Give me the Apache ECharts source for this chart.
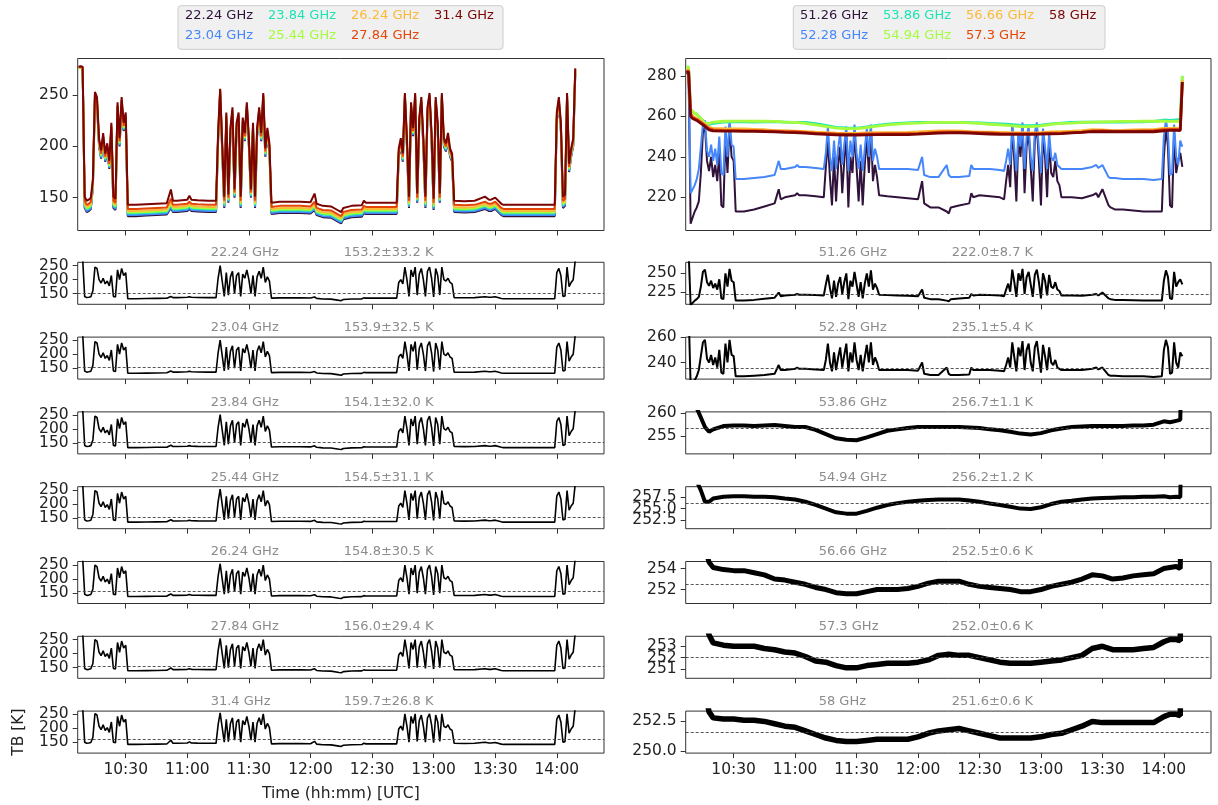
<!DOCTYPE html>
<html>
<head>
<meta charset="utf-8">
<script src="https://cdn.jsdelivr.net/npm/echarts@6/dist/echarts.min.js"></script>
<style>
html, body { margin: 0; padding: 0; background: #fff; }
#chart { width: 1218px; height: 805px; }
</style>
</head>
<body>
<div id="chart"></div>
<script>
// time in minutes after 00:00 UTC
var minutes = [
  607, 608, 609, 610, 611, 612, 613,
  614, 615, 616, 617, 618, 619, 620, 621, 622, 623, 624, 625, 626, 627, 628, 629, 630,
  631, 635, 640, 645, 650, 652, 653, 655, 660, 661, 662, 665, 670, 674,
  675, 676, 677, 678, 679, 680, 681, 682, 683, 684, 685, 686, 687, 688, 689, 690, 691, 692, 693, 694, 695, 696, 697, 698, 699, 700,
  701, 705, 710, 715, 720, 722, 723, 726, 730, 734, 735, 736, 740, 745, 746, 747, 750, 755, 760, 762,
  763, 764, 765, 766, 767, 768, 769, 770, 771, 772, 773, 774, 775, 776, 777, 778, 779, 780, 781, 782, 783, 784, 785, 786, 787, 788, 789,
  790, 795, 800, 805, 807, 808, 810, 813, 814, 816, 820, 825, 830, 835, 839,
  840, 841, 842, 843, 844, 845, 846, 847, 848, 849
];
var minutesSmooth = [
  607, 608, 609, 610, 612, 614, 616, 618, 620,
  625, 630, 635, 640, 645, 650, 655, 660, 665, 670, 675, 680, 685, 690, 695, 700, 705, 710, 715, 720, 725, 730,
  735, 740, 745, 750, 755, 760, 765, 770, 775, 780, 785, 790, 795, 800, 805, 810, 815, 820, 825, 830, 835, 840,
  843, 846, 848, 849
];

var tb22_24 = [
  276, 277, 276, 140, 136, 137, 139,
  160, 245, 240, 200, 188, 205, 185, 195, 178, 215, 140, 138, 235, 200, 240, 215, 225,
  132, 132, 132.5, 133, 133.5, 140, 136, 136, 137, 139, 137, 136.5, 136, 136,
  205, 250, 195, 140, 225, 145, 210, 230, 150, 215, 225, 140, 220, 205, 235, 200, 150, 215, 140, 210, 230, 205, 245, 190, 210, 195,
  134, 135, 135, 135, 134.5, 138, 133, 131, 130.5, 126, 125, 129, 131, 131.5, 135, 134, 134, 134, 134, 134,
  190, 200, 185, 245, 200, 140, 235, 210, 245, 145, 220, 240, 200, 140, 230, 245, 205, 138, 240, 215, 145, 245, 200, 195, 205, 190, 185,
  136, 135.5, 136, 139, 137, 137, 139, 133, 132, 132, 132, 132, 132, 132, 132,
  225, 240, 215, 140, 142, 245, 175, 190, 200, 270
];
var tb23_04 = [
  276, 277, 276, 141, 137, 138, 140,
  161, 246, 241, 201, 189, 206, 186, 196, 179, 216, 141, 139, 236, 201, 241, 216, 226,
  133, 133, 133.5, 134, 134.5, 141, 137, 137, 138, 140, 138, 137.5, 137, 137,
  206, 251, 196, 141, 226, 146, 211, 231, 151, 216, 226, 141, 221, 206, 236, 201, 151, 216, 141, 211, 231, 206, 246, 191, 211, 196,
  135, 136, 136, 136, 135.5, 139, 134, 132, 131.5, 127, 126, 130, 132, 132.5, 136, 135, 135, 135, 135, 135,
  191, 201, 186, 246, 201, 141, 236, 211, 246, 146, 221, 241, 201, 141, 231, 246, 206, 139, 241, 216, 146, 246, 201, 196, 206, 191, 186,
  137, 136.5, 137, 140, 138, 138, 140, 134, 133, 133, 133, 133, 133, 133, 133,
  226, 241, 216, 141, 143, 246, 176, 191, 201, 271
];
var tb23_84 = [
  276, 277, 276, 142, 138.5, 139.5, 141.5,
  162, 247, 242, 202, 190, 207, 187, 197, 180, 217, 142.5, 140.5, 237, 202, 242, 217, 227,
  134.5, 134.5, 135, 135.5, 136, 143, 138.5, 138.5, 139.5, 141.5, 139.5, 139, 138.5, 138.5,
  207, 252, 197, 142.5, 227, 147, 212, 232, 152, 217, 227, 142.5, 222, 207, 237, 202, 152, 217, 142.5, 212, 232, 207, 247, 192, 212, 197,
  136.5, 137.5, 137.5, 137.5, 137, 141, 135.5, 133.5, 133, 128.5, 127.5, 131.5, 133.5, 134, 137.5, 136.5, 136.5, 136.5, 136.5, 136.5,
  192, 202, 187, 247, 202, 142.5, 237, 212, 247, 147, 222, 242, 202, 142.5, 232, 247, 207, 140.5, 242, 217, 147, 247, 202, 197, 207, 192, 187,
  138.5, 138, 138.5, 141.5, 139.5, 139.5, 141.5, 135.5, 134.5, 134.5, 134.5, 134.5, 134.5, 134.5, 134.5,
  227, 242, 217, 142.5, 144.5, 247, 177, 192, 202, 272
];
var tb25_44 = [
  276, 277, 276, 143.5, 139.5, 140.5, 142.5,
  163, 248, 243, 203, 191, 208, 188, 198, 181, 218, 143.5, 141.5, 238, 203, 243, 218, 228,
  135.5, 135.5, 136, 136.5, 137, 144, 139.5, 139.5, 140.5, 142.5, 140.5, 140, 139.5, 139.5,
  208, 253, 198, 143.5, 228, 148, 213, 233, 153, 218, 228, 143.5, 223, 208, 238, 203, 153, 218, 143.5, 213, 233, 208, 248, 193, 213, 198,
  137.5, 138.5, 138.5, 138.5, 138, 142, 136.5, 134.5, 134, 129.5, 128.5, 132.5, 134.5, 135, 138.5, 137.5, 137.5, 137.5, 137.5, 137.5,
  193, 203, 188, 248, 203, 143.5, 238, 213, 248, 148, 223, 243, 203, 143.5, 233, 248, 208, 141.5, 243, 218, 148, 248, 203, 198, 208, 193, 188,
  139.5, 139, 139.5, 142.5, 140.5, 140.5, 142.5, 136.5, 135.5, 135.5, 135.5, 135.5, 135.5, 135.5, 135.5,
  228, 243, 218, 143.5, 145.5, 248, 178, 193, 203, 273
];
var tb26_24 = [
  276.5, 277, 276.5, 145, 141, 142, 144,
  164, 249, 244, 204, 192, 209, 189, 199, 182, 219, 145, 143, 239, 204, 244, 219, 229,
  137, 137, 137.5, 138, 138.5, 146, 141, 141, 142, 144, 142, 141.5, 141, 141,
  209, 254, 199, 145, 229, 149, 214, 234, 154, 219, 229, 145, 224, 209, 239, 204, 154, 219, 145, 214, 234, 209, 249, 194, 214, 199,
  139, 140, 140, 140, 139.5, 143.5, 138, 136, 135.5, 131, 130, 134, 136, 136.5, 140, 139, 139, 139, 139, 139,
  194, 204, 189, 249, 204, 145, 239, 214, 249, 149, 224, 244, 204, 145, 234, 249, 209, 143, 244, 219, 149, 249, 204, 199, 209, 194, 189,
  141, 140.5, 141, 144, 142, 142, 144, 138, 137, 137, 137, 137, 137, 137, 137,
  229, 244, 219, 145, 147, 249, 179, 194, 204, 274
];
var tb27_84 = [
  277, 277.5, 277, 147, 143, 144, 146,
  165, 250, 245, 205, 193, 210, 190, 200, 183, 220, 147, 145, 240, 205, 245, 220, 230,
  139, 139, 139.5, 140, 140.5, 149, 143, 143, 144, 146, 144, 143.5, 143, 143,
  210, 255, 200, 147, 230, 150, 215, 235, 155, 220, 230, 147, 225, 210, 240, 205, 155, 220, 147, 215, 235, 210, 250, 195, 215, 200,
  141, 142, 142, 142, 141.5, 146, 140, 138, 137.5, 133, 132, 136, 138, 138.5, 142, 141, 141, 141, 141, 141,
  195, 205, 190, 250, 205, 147, 240, 215, 250, 150, 225, 245, 205, 147, 235, 250, 210, 145, 245, 220, 150, 250, 205, 200, 210, 195, 190,
  143, 142.5, 143, 146, 144, 144, 146, 140, 139, 139, 139, 139, 139, 139, 139,
  230, 245, 220, 147, 149, 250, 180, 195, 205, 275
];
var tb31_4 = [
  277.5, 278, 277.5, 151, 147, 148, 150,
  168, 253, 248, 208, 196, 213, 193, 203, 186, 223, 151, 149, 243, 208, 248, 223, 233,
  143, 143, 143.5, 144, 144.5, 158, 147, 147, 148, 152, 148, 147.5, 147, 147,
  213, 256, 203, 151, 233, 153, 218, 238, 158, 223, 233, 151, 228, 213, 243, 208, 158, 223, 151, 218, 238, 213, 252, 198, 218, 203,
  145, 146, 146, 146, 145.5, 154, 144, 142, 141.5, 137, 136, 140, 142, 142.5, 147, 145, 145, 145, 145, 145,
  198, 208, 193, 252, 208, 151, 243, 218, 252, 154, 228, 248, 208, 151, 238, 252, 213, 149, 248, 223, 154, 252, 208, 203, 213, 198, 193,
  147, 146.5, 147, 151, 148, 148, 150, 144, 143, 143, 143, 143, 143, 143, 143,
  233, 248, 223, 151, 153, 252, 183, 198, 208, 276
];

var tb51_26 = [
  281, 281.5, 207, 210, 213, 215, 218,
  232, 252, 255, 238, 233, 240, 230, 236, 228, 242, 216, 215, 250, 232, 256, 240, 238,
  213, 213, 214, 215.5, 217, 224, 219, 220, 221, 222, 221, 221, 220.5, 220,
  235, 248, 230, 216, 240, 218, 236, 245, 222, 238, 250, 215, 240, 232, 252, 235, 218, 238, 216, 236, 250, 232, 254, 228, 236, 230,
  221, 220.5, 220, 219.5, 219, 228, 217, 215, 215, 213, 212, 215, 216, 217, 222, 220, 221, 220.5, 220, 219,
  228, 236, 225, 255, 238, 218, 250, 240, 256, 222, 245, 252, 235, 218, 248, 255, 238, 216, 250, 240, 220, 248, 232, 230, 238, 228, 226,
  220, 220, 219.5, 221, 222, 220, 224, 216, 215, 214, 214, 213.5, 213, 213, 213,
  240, 254, 245, 216, 215, 252, 232, 238, 242, 235
];
var tb52_28 = [
  281.5, 282, 222, 224, 226, 229, 234,
  245, 256, 258, 243, 240, 246, 238, 244, 236, 250, 232, 231, 255, 240, 258, 246, 245,
  229, 229, 229.5, 230, 231, 238, 234, 234, 235, 236, 235, 235, 234.5, 234,
  242, 255, 240, 233, 248, 234, 244, 252, 236, 246, 255, 233, 248, 240, 256, 242, 234, 246, 233, 244, 254, 240, 256, 238, 244, 240,
  234, 234, 234, 234, 233.5, 240, 231, 230, 230, 236, 231, 230, 230, 230.5, 236, 234, 234, 234, 233.5, 233,
  238, 244, 236, 256, 244, 233, 252, 245, 257, 234, 250, 255, 240, 233, 252, 257, 244, 232, 254, 245, 234, 252, 240, 238, 242, 236, 235,
  234, 234, 234, 235, 236, 234.5, 236, 230, 229.5, 229.5, 229, 229, 229, 228.5, 229,
  250, 258, 252, 231, 232, 256, 240, 236, 248, 245
];
var tb53_86 = [
  284, 284.5, 263, 262, 261, 259, 257, 256, 256.5,
  257.2, 257.3, 257.3, 257.2, 257.3, 257.4, 257.2, 257.0, 257.0, 256.4, 255.5, 254.6, 254.3, 254.2, 254.8, 255.5, 256.2, 256.5, 256.8, 257.0, 257.0, 257.0,
  257.0, 257.0, 256.9, 256.8, 256.5, 256.3, 256.0, 255.6, 255.4, 255.7, 256.3, 256.7, 257.0, 257.1, 257.2, 257.2, 257.2, 257.2, 257.3, 257.3, 257.5, 258.2,
  258.0, 258.3, 258.5, 280
];
var tb54_94 = [
  284, 284.5, 263.5, 262.5, 261, 259, 256.5, 256.5, 257.2,
  257.6, 257.7, 257.7, 257.6, 257.6, 257.5, 257.2, 257.0, 256.5, 255.8, 255.0, 254.2, 253.9, 253.9, 254.5, 255.2, 255.8, 256.2, 256.5, 256.7, 256.9, 257.0,
  257.0, 257.0, 256.8, 256.5, 256.1, 255.8, 255.4, 255.0, 254.9, 255.3, 256.0, 256.5, 256.7, 257.0, 257.2, 257.3, 257.4, 257.5, 257.5, 257.6, 257.6, 257.7,
  257.5, 257.6, 257.5, 280
];
var tb56_66 = [
  283, 283, 262, 260, 259, 257.5, 256, 254.6, 254.1,
  253.9, 253.8, 253.8, 253.6, 253.4, 253.0, 252.9, 252.7, 252.5, 252.2, 252.0, 251.7, 251.6, 251.6, 251.8, 252.0, 252.0, 252.0, 252.1, 252.3, 252.6, 252.8,
  252.8, 252.8, 252.5, 252.3, 252.2, 252.1, 252.0, 251.8, 251.8, 252.0, 252.3, 252.5, 252.7, 253.0, 253.4, 253.3, 253.0, 253.1, 253.3, 253.4, 253.5, 254.0,
  254.1, 254.2, 254.0, 278
];
var tb57_3 = [
  282, 282.5, 261, 259.5, 258.5, 257, 255.5, 254, 253.3,
  253.1, 253.0, 253.0, 253.0, 252.8, 252.7, 252.5, 252.4, 252.1, 251.7, 251.6, 251.3, 251.1, 251.1, 251.3, 251.4, 251.5, 251.5, 251.5, 251.6, 251.8, 252.2,
  252.3, 252.2, 252.2, 252.0, 251.8, 251.6, 251.5, 251.5, 251.5, 251.6, 251.7, 251.8, 252.0, 252.2, 252.8, 253.0, 252.7, 252.7, 252.7, 252.8, 252.9, 253.4,
  253.6, 253.6, 253.5, 277
];
var tb58 = [
  281.5, 282, 260, 259, 258, 256.5, 255, 253.3, 252.8,
  252.7, 252.7, 252.6, 252.6, 252.5, 252.3, 252.1, 252.0, 251.7, 251.4, 251.1, 250.9, 250.8, 250.8, 250.9, 251.0, 251.0, 251.0, 251.0, 251.2, 251.5, 251.7,
  251.8, 251.9, 251.7, 251.5, 251.3, 251.1, 251.1, 251.1, 251.1, 251.2, 251.4, 251.5, 251.8, 252.1, 252.5, 252.4, 252.4, 252.4, 252.4, 252.4, 252.4, 252.9,
  253.1, 253.1, 253.0, 277
];

var leftNames = ['22.24 GHz', '23.04 GHz', '23.84 GHz', '25.44 GHz', '26.24 GHz', '27.84 GHz', '31.4 GHz'];
var rightNames = ['51.26 GHz', '52.28 GHz', '53.86 GHz', '54.94 GHz', '56.66 GHz', '57.3 GHz', '58 GHz'];
var leftMeans = [153.2, 153.9, 154.1, 154.5, 154.8, 156.0, 159.7];
var leftStds = [33.2, 32.5, 32.0, 31.1, 30.5, 29.4, 26.8];
var rightMeans = [222.0, 235.1, 256.7, 256.2, 252.5, 252.0, 251.6];
var rightStds = [8.7, 5.4, 1.1, 1.2, 0.6, 0.6, 0.6];

var timeTicks = [630, 660, 690, 720, 750, 780, 810, 840];
var topLeftTicks = [150, 200, 250];
var topRightTicks = [220, 240, 260, 280];
var leftSmallTicks = [150, 200, 250];
var rightSmallTicks = [[225, 250], [240, 260], [255, 260], [252.5, 255, 257.5], [252, 254], [251, 252, 253], [250, 252.5]];

var leftData = [tb22_24, tb23_04, tb23_84, tb25_44, tb26_24, tb27_84, tb31_4];
var rightData = [tb51_26, tb52_28, tb53_86, tb54_94, tb56_66, tb57_3, tb58];
var rightTimes = [minutes, minutes, minutesSmooth, minutesSmooth, minutesSmooth, minutesSmooth, minutesSmooth];

// layout / style
var FONT = 'DejaVu Sans';
var COLORS = ['#30123b', '#4686fb', '#1be5b5', '#a4fc3c', '#fbb938', '#e4460a', '#7a0403'];
var COL_X = [77.7, 685.7], COL_W = [526.3, 525.3];
var TOP_Y = 58.5, TOP_H = 172;
var SMALL_Y = 262.3, SMALL_STEP = 74.8, SMALL_H = 42;
var X_MIN = 606.6, X_MAX = 863;
var topRanges = [[118, 285.6], [203.6, 288.6]];
var leftSmallRange = [112, 262];
var rightSmallRanges = [[208, 265], [226.8, 260.2], [251.3, 260.2], [250.6, 259.8], [250.67, 254.67], [250.18, 253.88], [249.83, 253.37]];
var rightSmallDecimals = [0, 0, 0, 1, 0, 0, 1];
var rightSmallWidths = [2, 2, 4, 4, 5, 5.5, 5.5];

function hhmm(v) {
  var h = Math.floor(v / 60), m = Math.round(v - h * 60);
  return h + ':' + (m < 10 ? '0' : '') + m;
}
function pairs(t, v) {
  return t.map(function (x, i) { return [x, v[i]]; });
}

var grids = [], xAxes = [], yAxes = [], series = [], titles = [];

function yAxisFor(gridIdx, range, ticks, decimals) {
  return {
    gridIndex: gridIdx, type: 'value', position: 'left', offset: 0, min: range[0], max: range[1],
    axisLine: { show: false }, splitLine: { show: false },
    axisTick: { show: true, length: 5, customValues: ticks, lineStyle: { color: '#333' } },
    axisLabel: {
      customValues: ticks, fontSize: 15.5, color: '#222', fontFamily: FONT, margin: 9,
      showMinLabel: true, showMaxLabel: true, hideOverlap: false,
      formatter: function (v) { return v.toFixed(decimals); }
    }
  };
}

// returns {x, y} axis indices; ticks too close together are split over two stacked y axes
function addPanel(col, panelTop, height, range, ticks, decimals, showX) {
  var idx = grids.length;
  grids.push({
    left: COL_X[col], top: panelTop, width: COL_W[col], height: height,
    show: true, borderColor: '#333', borderWidth: 1, outerBoundsMode: 'none'
  });
  xAxes.push({
    gridIndex: idx, type: 'value', min: X_MIN, max: X_MAX,
    axisLine: { show: false }, splitLine: { show: false },
    axisTick: { show: true, length: 5, customValues: timeTicks, lineStyle: { color: '#333' } },
    axisLabel: {
      show: showX, customValues: timeTicks, formatter: hhmm, fontSize: 15.5, color: '#222', fontFamily: FONT, margin: 9,
      showMinLabel: true, showMaxLabel: true, hideOverlap: false
    }
  });
  var split = height < 60 && ticks.length === 3;
  var yi = yAxes.length;
  yAxes.push(yAxisFor(idx, range, split ? [ticks[0], ticks[2]] : ticks, decimals));
  if (split) yAxes.push(yAxisFor(idx, range, [ticks[1]], decimals));
  return { x: idx, y: yi };
}

// top overview panels
var tl = addPanel(0, TOP_Y, TOP_H, topRanges[0], topLeftTicks, 0, false);
var tr = addPanel(1, TOP_Y, TOP_H, topRanges[1], topRightTicks, 0, false);
leftNames.forEach(function (n, i) {
  series.push({
    name: n, type: 'line', xAxisIndex: tl.x, yAxisIndex: tl.y, showSymbol: false, clip: true,
    data: pairs(minutes, leftData[i]), lineStyle: { width: 2, color: COLORS[i] }, itemStyle: { color: COLORS[i] }
  });
});
rightNames.forEach(function (n, i) {
  series.push({
    name: n, type: 'line', xAxisIndex: tr.x, yAxisIndex: tr.y, showSymbol: false, clip: true,
    data: pairs(rightTimes[i], rightData[i]), lineStyle: { width: i < 2 ? 2 : 2.8, color: COLORS[i] }, itemStyle: { color: COLORS[i] }
  });
});

function smallSeries(ax, t, v, mean, width) {
  return {
    name: 'panel' + ax.x, type: 'line', xAxisIndex: ax.x, yAxisIndex: ax.y, showSymbol: false, clip: true,
    data: pairs(t, v), lineStyle: { width: width, color: '#000' },
    markLine: {
      silent: true, symbol: 'none', animation: false, label: { show: false },
      lineStyle: { type: [3, 2], color: '#444', width: 0.9 },
      data: [{ yAxis: mean }]
    }
  };
}
function addTitles(col, panelTop, name, mean, std) {
  var style = function () { return { fontSize: 13, fontWeight: 'normal', color: '#8c8c8c', fontFamily: FONT }; };
  titles.push({ text: name, left: COL_X[col] + 133, top: panelTop - 16, padding: 0, textStyle: style() });
  titles.push({ text: mean.toFixed(1) + '\u00b1' + std.toFixed(1) + ' K', left: COL_X[col] + 266, top: panelTop - 16, padding: 0, textStyle: style() });
}

for (var k = 0; k < 7; k++) {
  var panelTop = SMALL_Y + k * SMALL_STEP;
  var last = k === 6;
  var la = addPanel(0, panelTop, SMALL_H, leftSmallRange, leftSmallTicks, 0, last);
  series.push(smallSeries(la, minutes, leftData[k], leftMeans[k], 1.6));
  addTitles(0, panelTop, leftNames[k], leftMeans[k], leftStds[k]);
  var ra = addPanel(1, panelTop, SMALL_H, rightSmallRanges[k], rightSmallTicks[k], rightSmallDecimals[k], last);
  series.push(smallSeries(ra, rightTimes[k], rightData[k], rightMeans[k], rightSmallWidths[k]));
  addTitles(1, panelTop, rightNames[k], rightMeans[k], rightStds[k]);
  if (last) {
    xAxes[la.x].name = 'Time (hh:mm) [UTC]';
    xAxes[la.x].nameLocation = 'middle';
    xAxes[la.x].nameGap = 33;
    xAxes[la.x].nameTextStyle = { fontSize: 15.5, color: '#222', fontFamily: FONT };
    yAxes[la.y].name = 'TB [K]';
    yAxes[la.y].nameLocation = 'middle';
    yAxes[la.y].nameGap = 51;
    yAxes[la.y].nameTextStyle = { fontSize: 15.5, color: '#222', fontFamily: FONT };
  }
}

function legendRow(left, rowTop, names, colorIdx) {
  return {
    left: left, top: rowTop, orient: 'horizontal', padding: 0, itemGap: 10,
    itemWidth: 0, itemHeight: 14, icon: 'none', selectedMode: false,
    textStyle: { fontSize: 13, fontFamily: FONT },
    data: names.map(function (n, j) { return { name: n, textStyle: { color: COLORS[colorIdx[j]] } }; })
  };
}

var option = {
  animation: false,
  backgroundColor: '#fff',
  textStyle: { fontFamily: FONT },
  grid: grids, xAxis: xAxes, yAxis: yAxes, series: series, title: titles,
  legend: [
    legendRow(180, 8.7, [leftNames[0], leftNames[2], leftNames[4], leftNames[6]], [0, 2, 4, 6]),
    legendRow(180, 28.7, [leftNames[1], leftNames[3], leftNames[5]], [1, 3, 5]),
    legendRow(795, 8.7, [rightNames[0], rightNames[2], rightNames[4], rightNames[6]], [0, 2, 4, 6]),
    legendRow(795, 28.7, [rightNames[1], rightNames[3], rightNames[5]], [1, 3, 5])
  ],
  graphic: [
    { type: 'rect', z: 0, shape: { x: 178, y: 5.7, width: 325, height: 43.6, r: 3 }, style: { fill: '#f0f0f0', stroke: '#cccccc', lineWidth: 1 } },
    { type: 'rect', z: 0, shape: { x: 793.3, y: 5.7, width: 311.7, height: 43.6, r: 3 }, style: { fill: '#f0f0f0', stroke: '#cccccc', lineWidth: 1 } }
  ]
};

var chart = echarts.init(document.getElementById('chart'));
chart.setOption(option);
</script>
</body>
</html>
